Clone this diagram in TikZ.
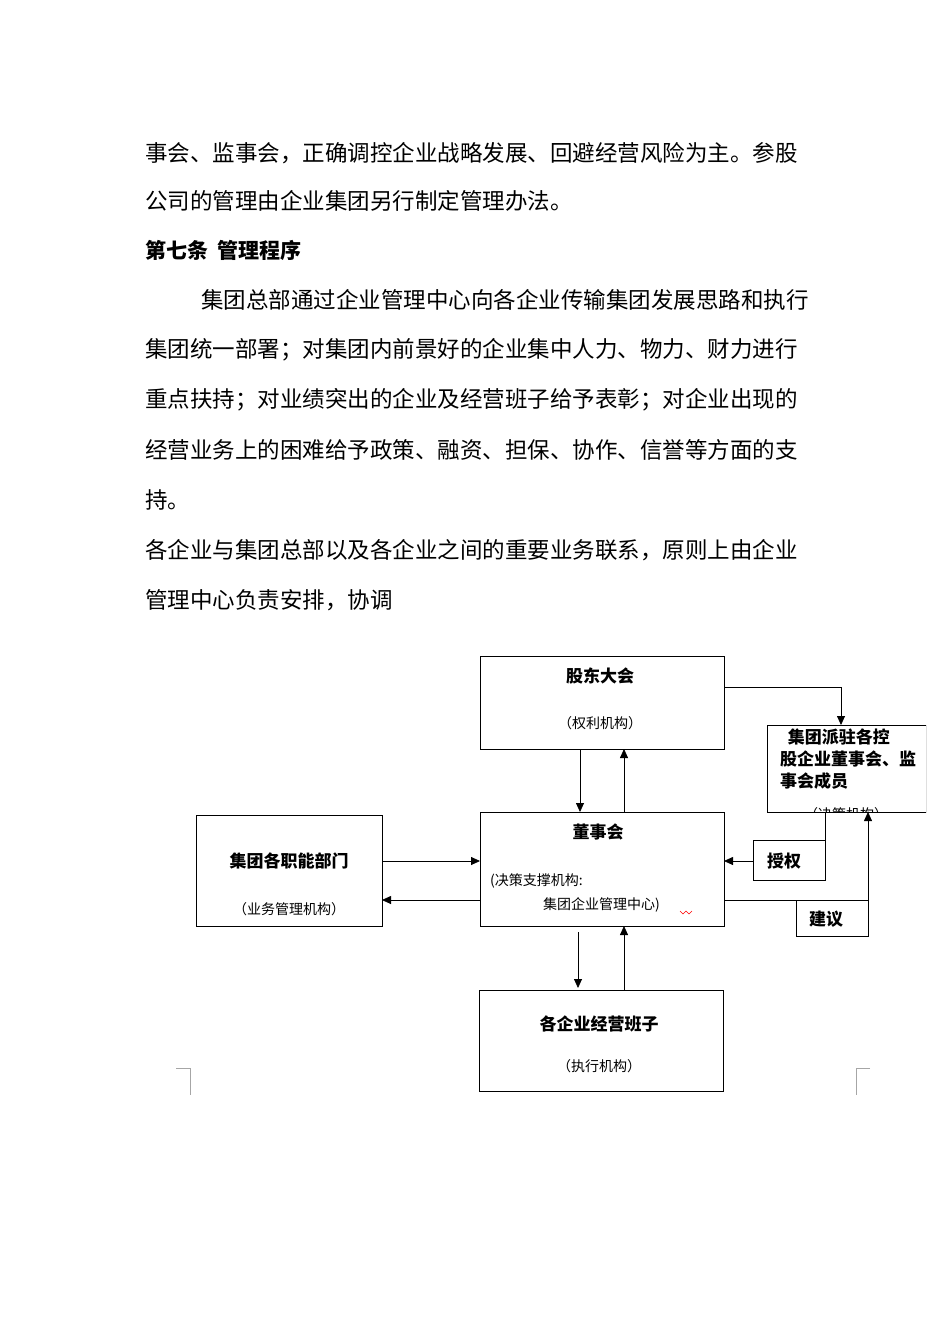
\documentclass[tikz,border=0pt]{standalone}
\usepackage{fontspec}
\setmainfont{Noto Sans CJK SC}
\newfontfamily\cjk{Noto Sans CJK SC}
\usetikzlibrary{arrows.meta}
\begin{document}
\begin{tikzpicture}[x=1pt,y=-1pt,
  bx/.style={draw,line width=0.8pt},
  ar/.style={line width=0.8pt,-{Triangle[length=9pt,width=8pt]}},
  ln/.style={line width=0.8pt},
  para/.style={anchor=west,inner sep=0,font=\fontsize{22.5}{22.5}\selectfont},
  lbl/.style={inner sep=0,font=\fontsize{17}{17}\selectfont\bfseries},
  sub/.style={inner sep=0,font=\fontsize{14}{14}\selectfont}]
\useasboundingbox (0,0) rectangle (950,1344);
\node[para] (t1) at (145,153) {事会、监事会，正确调控企业战略发展、回避经营风险为主。参股};
\node[para] (t2) at (145,201) {公司的管理由企业集团另行制定管理办法。};
\node[para,font=\fontsize{21}{21}\selectfont\bfseries] (t3) at (145,250) {第七条\ \ 管理程序};
\node[para] (t4) at (201,300) {集团总部通过企业管理中心向各企业传输集团发展思路和执行};
\node[para] (t5) at (145,350) {集团统一部署；对集团内前景好的企业集中人力、物力、财力进行};
\node[para] (t6) at (145,400) {重点扶持；对业绩突出的企业及经营班子给予表彰；对企业出现的};
\node[para] (t7) at (145,450) {经营业务上的困难给予政策、融资、担保、协作、信誉等方面的支};
\node[para] (t8) at (145,500) {持。};
\node[para] (t9) at (145,550) {各企业与集团总部以及各企业之间的重要业务联系，原则上由企业};
\node[para] (t10) at (145,600) {管理中心负责安排，协调};

\draw[bx] (480,656) rectangle (724,749);
\node[lbl] (gd) at (600,676) {股东大会};
\node[sub] (gds) at (600,723) {（权利机构）};

\begin{scope}
\clip (767,725) rectangle (926,812);
\draw[bx] (767,725) rectangle (926,812);
\node[lbl,align=left,anchor=north west] (jt) at (780,729) {\ \ 集团派驻各控\\[5pt]股企业董事会、监\\[5pt]事会成员};
\node[sub] (jts) at (846,814) {（决策机构）};
\end{scope}

\draw[bx] (480,812) rectangle (724,926);
\node[lbl] (ds) at (598,832) {董事会};
\node[sub,anchor=west] (ds1) at (490,881) {(决策支撑机构:};
\node[sub,anchor=west] (ds2) at (543,905) {集团企业管理中心)};

\draw[bx] (196,815) rectangle (382,926);
\node[lbl] (zn) at (289,861) {集团各职能部门};
\node[sub] (zns) at (289,909) {（业务管理机构）};

\draw[bx] (753,840) rectangle (825,880);
\node[lbl] (sq) at (784,861) {授权};
\draw[bx] (796,900) rectangle (868,936);
\node[lbl] (jy) at (826,919) {建议};

\draw[bx] (479,990) rectangle (723,1091);
\node[lbl] (bz) at (599,1024) {各企业经营班子};
\node[sub] (bzs) at (599,1066) {（执行机构）};

\draw[ar] (580,749) -- (580,812);
\draw[ar] (624,812) -- (624,749);
\draw[ar] (724,687) -| (841,725);
\draw[ln] (825,812) -- (825,880);
\draw[ar] (753,861) -- (724,861);
\draw[ar] (724,900) -| (868,812);
\draw[ar] (382,861) -- (480,861);
\draw[ar] (480,900) -- (382,900);
\draw[ar] (578,932) -- (578,988);
\draw[ar] (624,990) -- (624,926);
\draw[red,line width=0.5pt] (680,911) -- (683,914) -- (686,911) -- (689,914) -- (692,911);

\draw[gray!70,line width=0.6pt] (176,1068) -- (190,1068) -- (190,1095);
\draw[gray!70,line width=0.6pt] (870,1068) -- (856,1068) -- (856,1095);
\end{tikzpicture}
\end{document}
